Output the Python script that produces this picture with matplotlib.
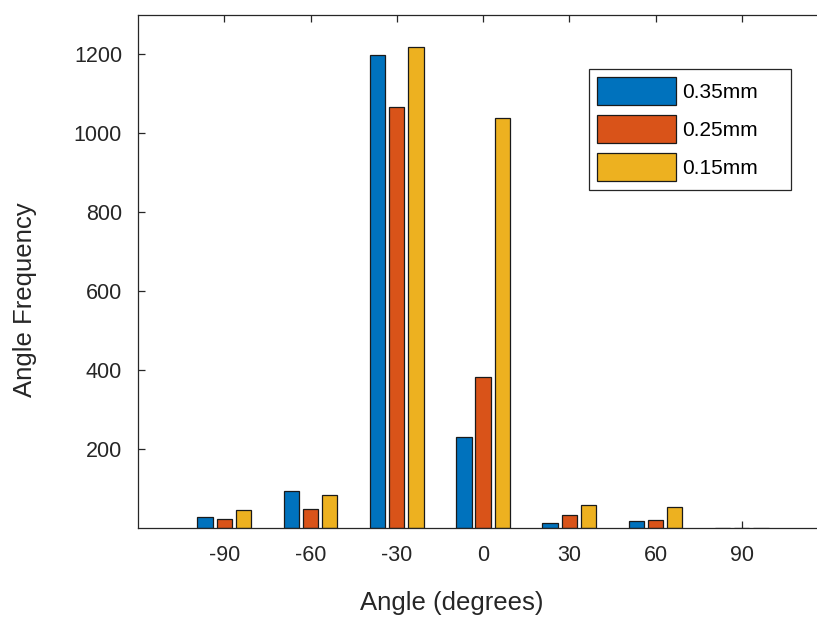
import matplotlib
matplotlib.use("Agg")
import matplotlib.pyplot as plt
from matplotlib.patches import Rectangle
import numpy as np

plt.rcParams['font.family'] = ['Liberation Sans', 'DejaVu Sans']

angles = [-90, -60, -30, 0, 30, 60, 90]
series_labels = ['0.35mm', '0.25mm', '0.15mm']
freq_035 = [28, 94, 1198, 230, 13, 18, 0]
freq_025 = [23, 48, 1068, 382, 33, 20, 0]
freq_015 = [46, 84, 1218, 1040, 58, 53, 0]
colors = ['#0072BD', '#D95319', '#EDB120']
yticks = [200, 400, 600, 800, 1000, 1200]

txt = '#262626'
W, H = 817, 618
fig = plt.figure(figsize=(W / 100, H / 100), dpi=100)
ax = fig.add_axes([138 / W, 90 / H, 690 / W, 513 / H])

x = np.array(angles, dtype=float)
group = 30 * 3 / 4.5
step = group / 3
width = 0.8 * step
for i, (vals, c, lab) in enumerate(zip([freq_035, freq_025, freq_015], colors, series_labels)):
    ax.bar(x + (i - 1) * step, vals, width=width, color=c, edgecolor='#1a1a1a',
           linewidth=0.9, label=lab, zorder=2)

ax.set_xlim(-120, 120)
ax.set_ylim(0, 1300)
ax.set_xticks(angles)
ax.set_xticklabels([str(a) for a in angles])
ax.set_yticks(yticks)

for s in ['left', 'bottom', 'top', 'right']:
    ax.spines[s].set_color(txt)
    ax.spines[s].set_linewidth(0.9)
ax.tick_params(direction='in', length=5.2, width=0.9, color=txt, top=True,
               labelsize=15.5, labelcolor=txt)
ax.tick_params(axis='x', pad=12)
ax.tick_params(axis='y', pad=11.5)

fig.text(452 / W, 1 - 603 / H, 'Angle (degrees)', fontsize=18.5, color=txt,
         ha='center', va='center')
fig.text(25 / W, 1 - 300 / H, 'Angle Frequency', fontsize=18.5, color=txt,
         ha='center', va='center', rotation=90)

# legend frame (drawn in axes, under the legend)
frame = Rectangle((589 / W, 1 - 190 / H), (791 - 589) / W, (190 - 69) / H,
                  transform=fig.transFigure, facecolor='white',
                  edgecolor=txt, linewidth=0.9, zorder=4, clip_on=False)
ax.add_patch(frame)
leg = ax.legend(loc='upper left', bbox_to_anchor=(0.6536, 0.8947), fontsize=15,
                handlelength=3.8, handleheight=1.694, handletextpad=0.29,
                labelspacing=0.48, borderpad=0.38, borderaxespad=0,
                frameon=False)
leg.set_zorder(5)
for t in leg.get_texts():
    t.set_color('black')
for h in leg.legend_handles:
    h.set_edgecolor('#1a1a1a')

fig.savefig('out.png', dpi=100)
